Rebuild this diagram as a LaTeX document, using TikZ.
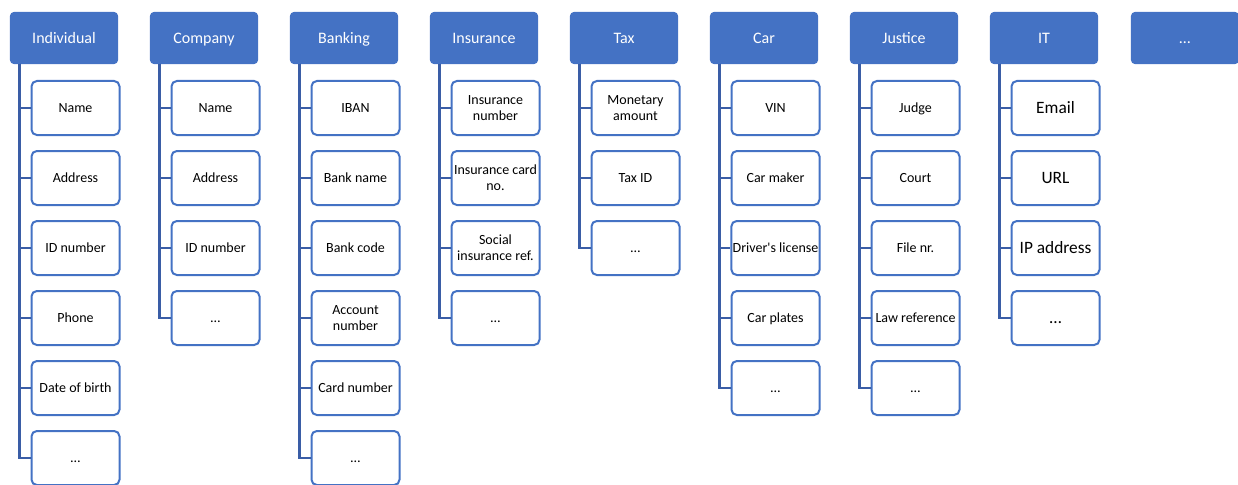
\documentclass[tikz,border=0pt]{standalone}
\usepackage{fontspec}
\setmainfont{Carlito}[Ligatures=TeXOff]
\definecolor{acc}{HTML}{4472C4}
\definecolor{conn}{HTML}{3A5DA6}
\newcommand\mystrut{\rule[-0.21em]{0pt}{1.06em}}
\begin{document}
\begin{tikzpicture}[x=0.75pt,y=-0.75pt,
  headbox/.style={draw=acc, fill=acc, line width=0.75pt, rounded corners=3pt,
    minimum width=80.5pt, minimum height=38.5pt, inner sep=1pt,
    text=white, font=\fontsize{12}{14}\selectfont},
  childbox/.style={draw=acc, fill=white, line width=1.5pt, rounded corners=4pt,
    minimum width=66pt, minimum height=40.5pt, inner sep=1pt, align=center,
    text=black, font=\fontsize{10.5}{11.5}\selectfont},
  bigchild/.style={childbox, font=\fontsize{13}{15}\selectfont},
  connline/.style={draw=conn, line width=2.2pt}]
\useasboundingbox (0,0) rectangle (1238,485);
\foreach \lbl/\kind/\items [count=\i] in {
  Individual/childbox/{Name,Address,ID number,Phone,Date of birth,…},
  Company/childbox/{Name,Address,ID number,…},
  Banking/childbox/{IBAN,Bank name,Bank code,{Account\\number},Card number,…},
  Insurance/childbox/{{Insurance\\number},{Insurance card\\no.},{Social\\insurance ref.},…},
  Tax/childbox/{{Monetary\\amount},Tax ID,…},
  Car/childbox/{VIN,Car maker,{Driver's license},Car plates,…},
  Justice/childbox/{Judge,Court,File nr.,Law reference,…},
  IT/bigchild/{Email,URL,IP address,…}}{
  \node[headbox] (h\i) at ({64+140*(\i-1)},38) {\mystrut\lbl};
  \coordinate (v\i) at ({19.5+140*(\i-1)},64);
  \foreach \t [count=\j] in \items {
    \node[\kind] (c\i-\j) at ({75.5+140*(\i-1)},{108+70*(\j-1)}) {\mystrut\t\mystrut};
    \draw[connline] (v\i) |- (c\i-\j.west);
  }
}
\node[headbox] (h9) at (1185,38) {\mystrut…};
\end{tikzpicture}
\end{document}
